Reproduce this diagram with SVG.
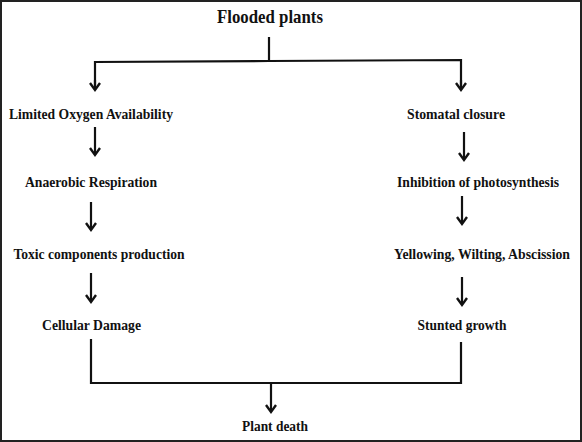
<svg xmlns="http://www.w3.org/2000/svg" width="582" height="442" viewBox="0 0 582 442">
<style>
text{font-family:"Liberation Serif","Times New Roman",serif;font-weight:bold;fill:#111;text-anchor:middle}
.t{font-size:14px}
.h{font-size:19px}
.c{stroke:#111;stroke-width:2.2;fill:none}
</style>
<defs>
<marker id="ah" markerWidth="12" markerHeight="12" refX="9" refY="6" orient="auto" markerUnits="userSpaceOnUse" viewBox="0 0 12 12">
<polyline points="2,1 9,6 2,11" fill="none" stroke="#111" stroke-width="2.4"/>
</marker>
</defs>
<rect x="1" y="1" width="580" height="440" fill="#fff" stroke="#222" stroke-width="2"/>
<g id="n-flooded"><text class="h" x="270" y="23" textLength="106" lengthAdjust="spacingAndGlyphs">Flooded plants</text></g>
<g id="n-limited"><text class="t" x="91" y="119" textLength="164" lengthAdjust="spacingAndGlyphs">Limited Oxygen Availability</text></g>
<g id="n-stomatal"><text class="t" x="456" y="119" textLength="98" lengthAdjust="spacingAndGlyphs">Stomatal closure</text></g>
<g id="n-anaerobic"><text class="t" x="91" y="187" textLength="132" lengthAdjust="spacingAndGlyphs">Anaerobic Respiration</text></g>
<g id="n-inhibition"><text class="t" x="478" y="187" textLength="162" lengthAdjust="spacingAndGlyphs">Inhibition of photosynthesis</text></g>
<g id="n-toxic"><text class="t" x="99" y="259" textLength="171" lengthAdjust="spacingAndGlyphs">Toxic components production</text></g>
<g id="n-yellowing"><text class="t" x="482" y="259" textLength="176" lengthAdjust="spacingAndGlyphs">Yellowing, Wilting, Abscission</text></g>
<g id="n-cellular"><text class="t" x="91.5" y="330" textLength="99" lengthAdjust="spacingAndGlyphs">Cellular Damage</text></g>
<g id="n-stunted"><text class="t" x="462" y="330" textLength="89" lengthAdjust="spacingAndGlyphs">Stunted growth</text></g>
<g id="n-death"><text class="t" x="275" y="431" textLength="66" lengthAdjust="spacingAndGlyphs">Plant death</text></g>
<g id="connectors">
<line class="c" x1="269" y1="37" x2="269" y2="61"/>
<polyline class="c" points="95,88 95,62 269,61 461,60 461,88"/>
<line class="c" x1="95" y1="80" x2="95" y2="90" marker-end="url(#ah)"/>
<line class="c" x1="461" y1="80" x2="461" y2="90" marker-end="url(#ah)"/>
<line class="c" x1="95" y1="127" x2="95" y2="155" marker-end="url(#ah)"/>
<line class="c" x1="464" y1="132" x2="464" y2="160" marker-end="url(#ah)"/>
<line class="c" x1="91" y1="202" x2="91" y2="230" marker-end="url(#ah)"/>
<line class="c" x1="462" y1="196" x2="462" y2="224" marker-end="url(#ah)"/>
<line class="c" x1="91" y1="273" x2="91" y2="302" marker-end="url(#ah)"/>
<line class="c" x1="462" y1="277" x2="462" y2="305" marker-end="url(#ah)"/>
<polyline class="c" points="91,339 91,383 461,383 461,342"/>
<line class="c" x1="271" y1="383" x2="271" y2="412" marker-end="url(#ah)"/>
</g>
</svg>
